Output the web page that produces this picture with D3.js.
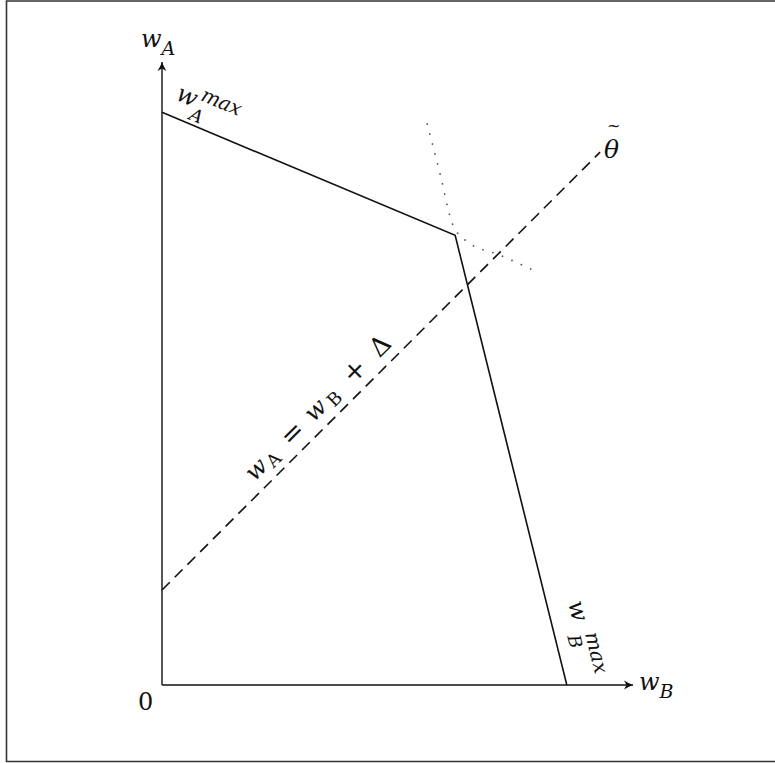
<!DOCTYPE html>
<html>
<head>
<meta charset="utf-8">
<script src="https://cdn.jsdelivr.net/npm/d3@7/dist/d3.min.js"></script>
<style>
  body { margin: 0; background: #fff; }
  svg text { font-family: "DejaVu Serif", "Liberation Serif", serif; }
</style>
</head>
<body>
<div id="chart"></div>
<script>
// utility frontier vertices: (w_B, w_A)
var frontierWB = [0, 7.22, 9.97];
var frontierWA = [14.11, 11.08, 0];

// dashed line w_A = w_B + delta
var delta = 2.34;
var diagWB = [0, 10.79];

// dotted curve through the kink
var curveWB = [6.53, 6.85, 7.14, 7.49, 8.33, 9.19];
var curveWA = [13.82, 12.59, 11.40, 10.94, 10.59, 10.20];

// axis extents
var axisWB = 11.6, axisWA = 15.35;

var width = 775, height = 763;

var svg = d3.select("#chart").append("svg")
    .attr("width", width)
    .attr("height", height)
    .attr("fill", "#111");

// frame round the figure (right edge is cut off)
svg.append("path")
    .attr("d", "M775,1 H6.5 V761.5 H775")
    .attr("fill", "none")
    .attr("stroke", "#333")
    .attr("stroke-width", 1.6);

var x = d3.scaleLinear().domain([0, axisWB]).range([162, 633]);
var y = d3.scaleLinear().domain([0, axisWA]).range([685, 62]);

var line = d3.line()
    .x(function(d) { return x(d[0]); })
    .y(function(d) { return y(d[1]); });

// axes
svg.append("path")
    .attr("d", line([[0, 0], [axisWB, 0]]))
    .attr("stroke", "#111").attr("stroke-width", 1.4).attr("fill", "none");
svg.append("path")
    .attr("d", line([[0, 0], [0, axisWA]]))
    .attr("stroke", "#111").attr("stroke-width", 1.4).attr("fill", "none");

// arrow heads
var headPath = "M0,0 C-3,-1 -6,-2.8 -9,-4.5 L-6.5,0 L-9,4.5 C-6,2.8 -3,1 0,0 Z";
svg.append("path")
    .attr("d", headPath)
    .attr("fill", "#111")
    .attr("transform", "translate(" + x(axisWB) + "," + y(0) + ")");
svg.append("path")
    .attr("d", headPath)
    .attr("fill", "#111")
    .attr("transform", "translate(" + x(0) + "," + y(axisWA) + ") rotate(-90)");

// frontier
var frontier = frontierWB.map(function(d, i) { return [d, frontierWA[i]]; });
svg.append("path")
    .attr("d", line(frontier))
    .attr("fill", "none")
    .attr("stroke", "#111")
    .attr("stroke-width", 1.6)
    .attr("stroke-linejoin", "miter");

// dashed 45-degree line
var diag = diagWB.map(function(d) { return [d, d + delta]; });
svg.append("path")
    .attr("d", line(diag))
    .attr("fill", "none")
    .attr("stroke", "#111")
    .attr("stroke-width", 1.6)
    .attr("stroke-dasharray", "11,7");

// dotted curve
var curve = curveWB.map(function(d, i) { return [d, curveWA[i]]; });
svg.append("path")
    .attr("d", line.curve(d3.curveMonotoneX)(curve))
    .attr("fill", "none")
    .attr("stroke", "#555")
    .attr("stroke-width", 1.8)
    .attr("stroke-linecap", "round")
    .attr("stroke-dasharray", "0.01,10.3");
line.curve(d3.curveLinear);

// plain labels
var wa = svg.append("text").attr("x", 141).attr("y", 47);
wa.append("tspan").attr("font-style", "italic").attr("font-size", 24).text("w");
wa.append("tspan").attr("font-style", "italic").attr("font-size", 19).attr("dy", 8).text("A");

var wb = svg.append("text").attr("x", 639).attr("y", 690);
wb.append("tspan").attr("font-style", "italic").attr("font-size", 24).text("w");
wb.append("tspan").attr("font-style", "italic").attr("font-size", 19).attr("dy", 8).text("B");

svg.append("text").attr("x", 138).attr("y", 710).attr("font-size", 24).text("0");

// theta with its tilde accent set just above
svg.append("text").attr("x", 604).attr("y", 158)
    .attr("font-size", 25).attr("font-style", "italic").text("θ");
svg.append("text").attr("x", 607).attr("y", 131)
    .attr("font-size", 16).text("~");

// labels laid along a segment: a = distance along, u = distance above
function rotLabel(p0, p1, pieces) {
    var ang = Math.atan2(y(p1[1]) - y(p0[1]), x(p1[0]) - x(p0[0])) * 180 / Math.PI;
    var g = svg.append("g")
        .attr("transform", "translate(" + x(p0[0]) + "," + y(p0[1]) + ") rotate(" + ang + ")");
    pieces.forEach(function(p) {
        g.append("text")
            .attr("x", p.a)
            .attr("y", -p.u)
            .attr("text-anchor", "middle")
            .attr("font-size", p.size)
            .attr("font-style", p.it ? "italic" : "normal")
            .text(p.t);
    });
}

rotLabel(frontier[0], frontier[1], [
    {t: "w", a: 17, u: 17, size: 24, it: true},
    {t: "max", a: 51, u: 26, size: 20, it: true},
    {t: "A", a: 33, u: 4, size: 18, it: true}
]);

rotLabel(frontier[1], frontier[2], [
    {t: "w", a: 394, u: 21, size: 24, it: true},
    {t: "max", a: 439, u: 30, size: 20, it: true},
    {t: "B", a: 423, u: 12, size: 18, it: true}
]);

rotLabel(diag[0], diag[1], [
    {t: "w", a: 152, u: 11, size: 24, it: true},
    {t: "A", a: 171, u: 7, size: 18, it: false},
    {t: "=", a: 203, u: 10, size: 27, it: false},
    {t: "w", a: 236, u: 11, size: 24, it: true},
    {t: "B", a: 257, u: 7, size: 18, it: false},
    {t: "+", a: 291, u: 10, size: 27, it: false},
    {t: "Δ", a: 327, u: 10, size: 26, it: false}
]);
</script>
</body>
</html>
